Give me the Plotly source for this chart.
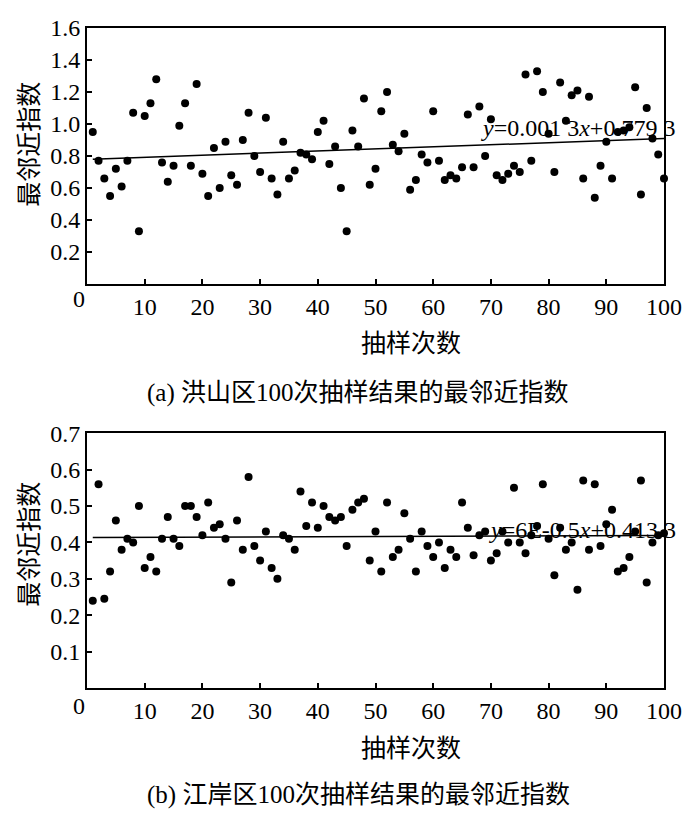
import plotly.graph_objects as go

# ---------------- data ----------------
runs = list(range(1, 101))

hongshan_nni = [
    0.95, 0.77, 0.66, 0.55, 0.72, 0.61, 0.77, 1.07, 0.33, 1.05,
    1.13, 1.28, 0.76, 0.64, 0.74, 0.99, 1.13, 0.74, 1.25, 0.69,
    0.55, 0.85, 0.60, 0.89, 0.68, 0.62, 0.90, 1.07, 0.80, 0.70,
    1.04, 0.66, 0.56, 0.89, 0.66, 0.71, 0.82, 0.81, 0.78, 0.95,
    1.02, 0.75, 0.86, 0.60, 0.33, 0.96, 0.86, 1.16, 0.62, 0.72,
    1.08, 1.20, 0.87, 0.83, 0.94, 0.59, 0.65, 0.81, 0.76, 1.08,
    0.77, 0.65, 0.68, 0.66, 0.73, 1.06, 0.73, 1.11, 0.80, 1.03,
    0.68, 0.65, 0.69, 0.74, 0.70, 1.31, 0.77, 1.33, 1.20, 0.94,
    0.70, 1.26, 1.02, 1.18, 1.21, 0.66, 1.17, 0.54, 0.74, 0.89,
    0.66, 0.95, 0.96, 0.98, 1.23, 0.56, 1.10, 0.91, 0.81, 0.66,
]

jiangan_nni = [
    0.24, 0.56, 0.245, 0.32, 0.46, 0.38, 0.41, 0.40, 0.50, 0.33,
    0.36, 0.32, 0.41, 0.47, 0.41, 0.39, 0.50, 0.50, 0.47, 0.42,
    0.51, 0.44, 0.45, 0.41, 0.29, 0.46, 0.38, 0.58, 0.39, 0.35,
    0.43, 0.33, 0.30, 0.42, 0.41, 0.38, 0.54, 0.445, 0.51, 0.44,
    0.50, 0.47, 0.46, 0.47, 0.39, 0.49, 0.51, 0.52, 0.35, 0.43,
    0.32, 0.51, 0.36, 0.38, 0.48, 0.41, 0.32, 0.43, 0.39, 0.36,
    0.40, 0.33, 0.38, 0.36, 0.51, 0.44, 0.365, 0.42, 0.43, 0.35,
    0.37, 0.43, 0.40, 0.55, 0.40, 0.37, 0.42, 0.445, 0.56, 0.41,
    0.31, 0.44, 0.38, 0.40, 0.27, 0.57, 0.38, 0.56, 0.39, 0.45,
    0.49, 0.32, 0.33, 0.36, 0.43, 0.57, 0.29, 0.40, 0.42, 0.425,
]

# trend line coefficients as printed on the chart
trend_a = (0.0013, 0.7793)
trend_b = (0.00006, 0.4133)
eq_a = "<i>y</i>=0.001 3<i>x</i>+0.779 3"
eq_b = "<i>y</i>=6E-0.5<i>x</i>+0.413 3"

x_tickvals = [0, 10, 20, 30, 40, 50, 60, 70, 80, 90, 100]
x_ticktext = ["", "10", "20", "30", "40", "50", "60", "70", "80", "90", "100"]
origin_label = "0"
ya_tickvals = [0.2, 0.4, 0.6, 0.8, 1.0, 1.2, 1.4, 1.6]
ya_ticktext = ["0.2", "0.4", "0.6", "0.8", "1.0", "1.2", "1.4", "1.6"]
yb_tickvals = [0.1, 0.2, 0.3, 0.4, 0.5, 0.6, 0.7]
yb_ticktext = ["0.1", "0.2", "0.3", "0.4", "0.5", "0.6", "0.7"]

x_title = "抽样次数"
y_title = "最邻近指数"
caption_a = "(a) 洪山区100次抽样结果的最邻近指数"
caption_b = "(b) 江岸区100次抽样结果的最邻近指数"

# ---------------- figure ----------------
FONT = "Liberation Serif, Times New Roman, Noto Sans CJK SC, serif"
fig = go.Figure()

line_x = [runs[0], runs[-1]]

fig.add_trace(go.Scatter(x=runs, y=hongshan_nni, mode="markers",
                         marker=dict(color="black", size=8),
                         xaxis="x", yaxis="y", cliponaxis=False, showlegend=False))
fig.add_trace(go.Scatter(x=line_x, y=[trend_a[0] * v + trend_a[1] for v in line_x],
                         mode="lines", line=dict(color="black", width=1.5),
                         xaxis="x", yaxis="y", showlegend=False))
fig.add_trace(go.Scatter(x=runs, y=jiangan_nni, mode="markers",
                         marker=dict(color="black", size=8),
                         xaxis="x2", yaxis="y2", cliponaxis=False, showlegend=False))
fig.add_trace(go.Scatter(x=line_x, y=[trend_b[0] * v + trend_b[1] for v in line_x],
                         mode="lines", line=dict(color="black", width=1.5),
                         xaxis="x2", yaxis="y2", showlegend=False))

TICK_SIZE = 24
TEXT_SIZE = 25
axis_common = dict(showline=True, linecolor="black", linewidth=2, mirror=True,
                   ticks="inside", ticklen=5, tickwidth=1.5, tickcolor="black",
                   showgrid=False, zeroline=False,
                   tickfont=dict(family=FONT, size=TICK_SIZE, color="black"))

# page has an 8px body margin; figure sized so it fits the 700x818 window
fig.update_layout(
    width=692, height=802,
    margin=dict(l=79, r=36, t=7, b=122),
    paper_bgcolor="white", plot_bgcolor="white",
    font=dict(family=FONT, color="black"),
    xaxis=dict(domain=[0, 1], range=[0, 100], anchor="y",
               tickvals=x_tickvals, ticktext=x_ticktext, **axis_common),
    yaxis=dict(domain=[0.612, 1], range=[0, 1.6], anchor="x",
               tickvals=ya_tickvals, ticktext=ya_ticktext, **axis_common),
    xaxis2=dict(domain=[0, 1], range=[0, 100], anchor="y2",
                tickvals=x_tickvals, ticktext=x_ticktext, **axis_common),
    yaxis2=dict(domain=[0, 0.386], range=[0, 0.7], anchor="x2",
                tickvals=yb_tickvals, ticktext=yb_ticktext, **axis_common),
)

# helpers: page pixel -> paper fraction (plot area spans x 87..664, y 15..688)
def px_x(p):
    return (p - 87) / 577.0

def px_y(p):
    return (688 - p) / 673.0

ann_font = dict(family=FONT, size=TEXT_SIZE, color="black")
tick_font = dict(family=FONT, size=TICK_SIZE, color="black")
annotations = [
    dict(text=eq_a, x=67.9, y=0.977, xref="x", yref="y", xanchor="left", yanchor="middle",
         showarrow=False, font=dict(family=FONT, size=24, color="black")),
    dict(text=eq_b, x=69.3, y=0.434, xref="x2", yref="y2", xanchor="left", yanchor="middle",
         showarrow=False, font=dict(family=FONT, size=24, color="black")),
    dict(text=origin_label, x=px_x(79), y=px_y(291), xref="paper", yref="paper",
         xanchor="center", yanchor="middle", showarrow=False, font=tick_font),
    dict(text=origin_label, x=px_x(79), y=px_y(706), xref="paper", yref="paper",
         xanchor="center", yanchor="middle", showarrow=False, font=tick_font),
    dict(text=x_title, x=px_x(411), y=px_y(337), xref="paper", yref="paper",
         xanchor="center", yanchor="middle", showarrow=False, font=ann_font),
    dict(text=x_title, x=px_x(411), y=px_y(750), xref="paper", yref="paper",
         xanchor="center", yanchor="middle", showarrow=False, font=ann_font),
    dict(text=caption_a, x=px_x(358), y=px_y(387), xref="paper", yref="paper",
         xanchor="center", yanchor="middle", showarrow=False, font=ann_font),
    dict(text=caption_b, x=px_x(358), y=px_y(797), xref="paper", yref="paper",
         xanchor="center", yanchor="middle", showarrow=False, font=ann_font),
    dict(text=y_title, x=px_x(30), y=px_y(134), xref="paper", yref="paper",
         xanchor="center", yanchor="middle", textangle=-90, showarrow=False, font=ann_font),
    dict(text=y_title, x=px_x(30), y=px_y(542), xref="paper", yref="paper",
         xanchor="center", yanchor="middle", textangle=-90, showarrow=False, font=ann_font),
]
fig.update_layout(annotations=annotations)

fig.write_html("out.html")
